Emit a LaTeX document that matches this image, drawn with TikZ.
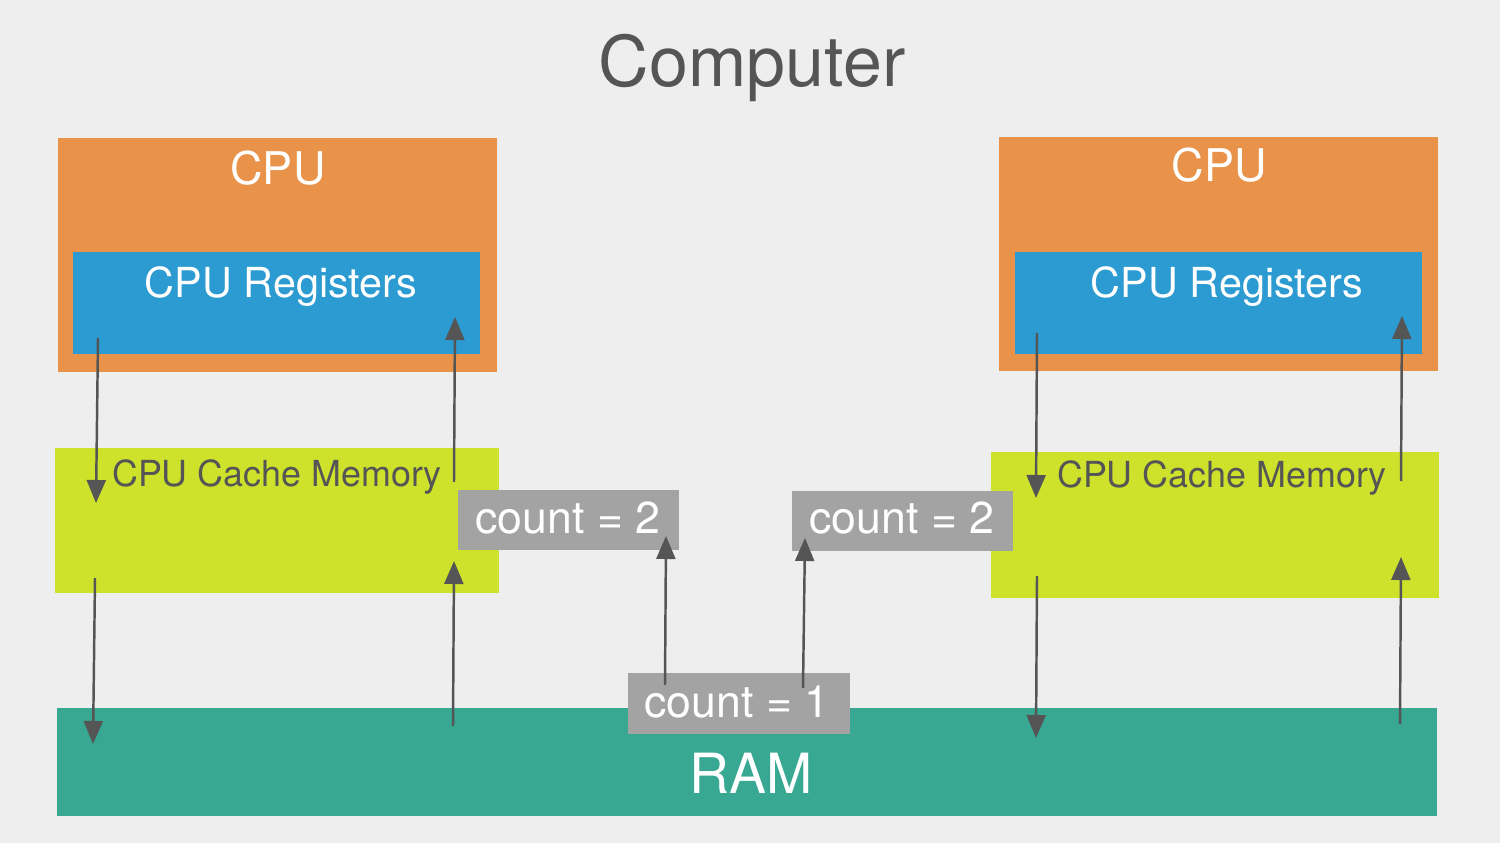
\documentclass[tikz,border=0pt]{standalone}
\usepackage{fontspec}
\setmainfont{TeX Gyre Heros}
\usetikzlibrary{arrows.meta}
\definecolor{bg}{HTML}{EEEEEE}
\definecolor{cpuor}{HTML}{E8924A}
\definecolor{regbl}{HTML}{2B9BD1}
\definecolor{cachegr}{HTML}{CEE22C}
\definecolor{ramtl}{HTML}{38A893}
\definecolor{cntgr}{HTML}{A3A3A3}
\definecolor{txtdk}{HTML}{555555}
\definecolor{arrdk}{HTML}{555555}
\tikzset{
  box/.style={rectangle, inner sep=0pt, outer sep=0pt, draw=none},
  lbl/.style={inner sep=0pt, outer sep=0pt, anchor=base},
  arr/.style={draw=arrdk, line width=0.7pt, -{Triangle[width=0.19cm,length=0.23cm]}},
}
\begin{document}
\begin{tikzpicture}[x=0.01cm,y=-0.01cm]
\fill[bg] (0,0) rectangle (1500,843);
\useasboundingbox (0,0) rectangle (1500,843);

\node[lbl, text=txtdk, font=\fontsize{19.9}{22}\selectfont] (title) at (752,87) {Computer};

% left CPU
\node[box, fill=cpuor, minimum width=4.39cm, minimum height=2.34cm] (cpuL) at (277.5,255) {};
\node[lbl, text=white, font=\fontsize{12.8}{14}\selectfont] (cpuLt) at (278,185) {CPU};
\node[box, fill=regbl, minimum width=4.07cm, minimum height=1.02cm] (regL) at (276.5,303) {};
\node[lbl, text=white, font=\fontsize{11.75}{13}\selectfont] (regLt) at (281,298) {CPU Registers};
\node[box, fill=cachegr, minimum width=4.44cm, minimum height=1.45cm] (cacheL) at (277,520.5) {};
\node[lbl, text=txtdk, font=\fontsize{10.2}{12}\selectfont] (cacheLt) at (277,487) {CPU Cache Memory};

% right CPU
\node[box, fill=cpuor, minimum width=4.39cm, minimum height=2.34cm] (cpuR) at (1218.5,254) {};
\node[lbl, text=white, font=\fontsize{12.8}{14}\selectfont] (cpuRt) at (1219,182) {CPU};
\node[box, fill=regbl, minimum width=4.07cm, minimum height=1.02cm] (regR) at (1218.5,303) {};
\node[lbl, text=white, font=\fontsize{11.75}{13}\selectfont] (regRt) at (1227,298) {CPU Registers};
\node[box, fill=cachegr, minimum width=4.48cm, minimum height=1.46cm] (cacheR) at (1215,525) {};
\node[lbl, text=txtdk, font=\fontsize{10.2}{12}\selectfont] (cacheRt) at (1222,488) {CPU Cache Memory};

% RAM
\node[box, fill=ramtl, minimum width=13.80cm, minimum height=1.08cm] (ram) at (747,762) {};
\node[lbl, text=white, font=\fontsize{15.75}{18}\selectfont] (ramt) at (751,793) {RAM};

% count boxes
\node[box, fill=cntgr, minimum width=2.21cm, minimum height=0.60cm] (cntL) at (568.5,520) {};
\node[lbl, text=white, font=\fontsize{12.7}{14}\selectfont] (cntLt) at (568,533) {count = 2};
\node[box, fill=cntgr, minimum width=2.21cm, minimum height=0.60cm] (cntR) at (902.5,521) {};
\node[lbl, text=white, font=\fontsize{12.7}{14}\selectfont] (cntRt) at (902,534) {count = 2};
\node[box, fill=cntgr, minimum width=2.22cm, minimum height=0.61cm] (cnt1) at (739,703.5) {};
\node[lbl, text=white, font=\fontsize{12.7}{14}\selectfont] (cnt1t) at (737,717) {count = 1};

% arrow end points
\coordinate (a1s) at (98,338);  \coordinate (a1e) at (96,503);
\coordinate (a2s) at (454,482); \coordinate (a2e) at (455,317);
\coordinate (a3s) at (95,578);  \coordinate (a3e) at (93,744);
\coordinate (a4s) at (453,726); \coordinate (a4e) at (454,561);
\coordinate (m1s) at (665,685); \coordinate (m1e) at (666,536);
\coordinate (m2s) at (803,688); \coordinate (m2e) at (805,538);
\coordinate (b1s) at (1037,333); \coordinate (b1e) at (1036,498);
\coordinate (b2s) at (1401,481); \coordinate (b2e) at (1402,316);
\coordinate (b3s) at (1037,576); \coordinate (b3e) at (1036,738);
\coordinate (b4s) at (1400,724); \coordinate (b4e) at (1401,557);

\draw[arr] (a1s) -- (a1e);
\draw[arr] (a2s) -- (a2e);
\draw[arr] (a3s) -- (a3e);
\draw[arr] (a4s) -- (a4e);
\draw[arr] (m1s) -- (m1e);
\draw[arr] (m2s) -- (m2e);
\draw[arr] (b1s) -- (b1e);
\draw[arr] (b2s) -- (b2e);
\draw[arr] (b3s) -- (b3e);
\draw[arr] (b4s) -- (b4e);
\end{tikzpicture}
\end{document}
